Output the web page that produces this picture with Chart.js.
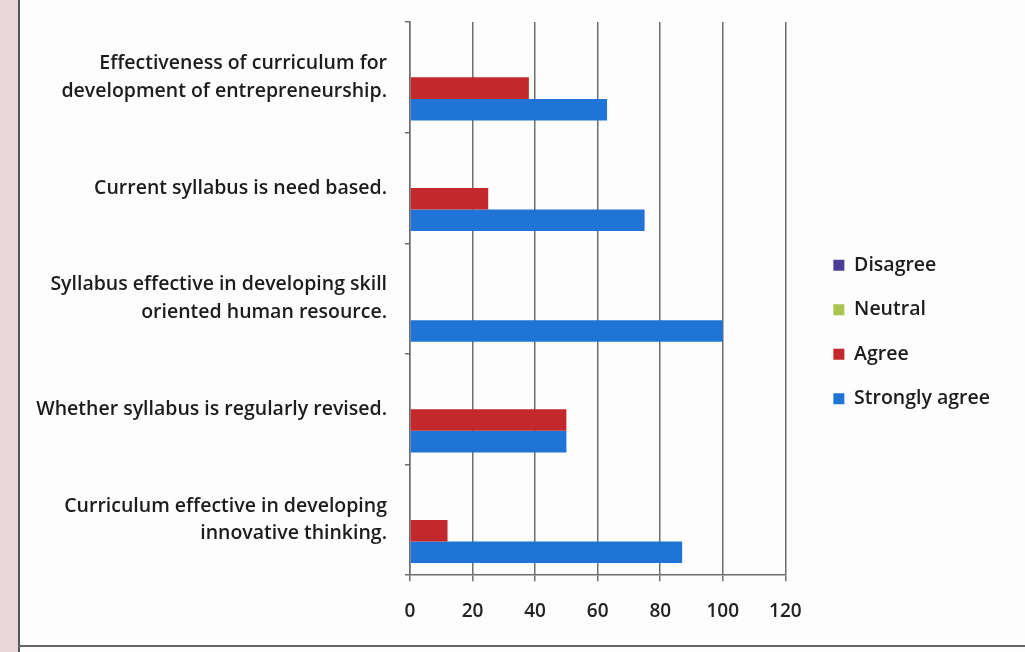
<!DOCTYPE html>
<html>
<head>
<meta charset="utf-8">
<script src="https://cdn.jsdelivr.net/npm/chart.js@4"></script>
<style>
  html, body { margin: 0; padding: 0; background: #fff; }
  #wrap { position: relative; width: 1025px; height: 652px; background: #fdfdfd; }
  #edge { position: absolute; left: 0; top: 0; width: 18px; height: 652px; background: #e9d6da; border-right: 2px solid #555; }
  #base { position: absolute; left: 18px; top: 645px; width: 1007px; height: 2px; background: #666; }
  canvas { position: absolute; left: 0; top: 0; }
</style>
</head>
<body>
<div id="wrap">
  <div id="edge"></div>
  <div id="base"></div>
  <canvas id="chart" width="1025" height="652"></canvas>
</div>
<script>
const categories = [
    ["Effectiveness of curriculum for", "development of entrepreneurship."],
    "Current syllabus is need based.",
    ["Syllabus effective in developing skill", "oriented human resource."],
    "Whether syllabus is regularly revised.",
    ["Curriculum effective in developing", "innovative thinking."]
];
const disagree = [0, 0, 0, 0, 0];
const neutral = [0, 0, 0, 0, 0];
const agree = [38, 25, 0, 50, 12];
const stronglyAgree = [63, 75, 100, 50, 87];
const xTicks = [0, 20, 40, 60, 80, 100, 120];

const labelFont = { family: "'Open Sans', sans-serif", size: 19.5, weight: "600", lineHeight: 1.42 };

// push the legend a bit away from the plot
const legendShift = {
    id: "legendShift",
    afterLayout(chart) {
        chart.legend.left += 23;
        chart.legend.right += 23;
    }
};

new Chart(document.getElementById("chart"), {
    type: "bar",
    data: {
        labels: categories,
        datasets: [
            { label: "Disagree", data: disagree, backgroundColor: "#4a3d96" },
            { label: "Neutral", data: neutral, backgroundColor: "#a9c550" },
            { label: "Agree", data: agree, backgroundColor: "#c2282c" },
            { label: "Strongly agree", data: stronglyAgree, backgroundColor: "#1f74d6" }
        ]
    },
    options: {
        indexAxis: "y",
        responsive: false,
        animation: false,
        layout: { padding: { left: 20, right: 48, top: 22, bottom: 10 } },
        datasets: { bar: { categoryPercentage: 0.78, barPercentage: 1 } },
        scales: {
            x: {
                min: 0,
                max: 120,
                afterBuildTicks: scale => { scale.ticks = xTicks.map(v => ({ value: v })); },
                grid: { color: "#6e6e6e", lineWidth: 1.5, tickLength: 6 },
                border: { color: "#6e6e6e", width: 1.5 },
                ticks: { color: "#222", font: { family: "'Open Sans', sans-serif", size: 19, weight: "600" }, padding: 19 }
            },
            y: {
                afterFit: scale => { scale.width = 390; scale.paddingTop = 0; scale.paddingBottom = 0; },
                grid: { drawOnChartArea: false, color: "#6e6e6e", lineWidth: 1.5, tickLength: 5 },
                border: { color: "#6e6e6e", width: 1.5 },
                ticks: { color: "#1c1c1c", font: labelFont, padding: 18, autoSkip: false }
            }
        },
        plugins: {
            legend: {
                position: "right",
                labels: { boxWidth: 11, boxHeight: 11, padding: 25, color: "#1c1c1c", font: labelFont }
            },
            tooltip: { enabled: false }
        }
    },
    plugins: [legendShift]
});
</script>
</body>
</html>
